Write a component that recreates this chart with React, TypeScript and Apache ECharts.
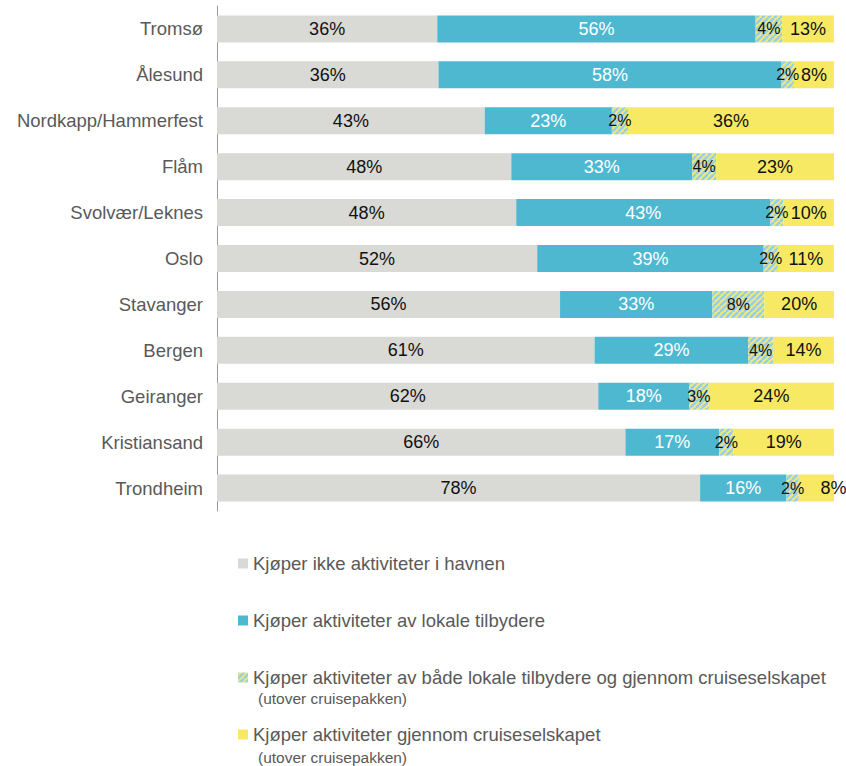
import React, { useEffect, useRef } from "react";
import * as echarts from "echarts";

const categories = [
  "Tromsø",
  "Ålesund",
  "Nordkapp/Hammerfest",
  "Flåm",
  "Svolvær/Leknes",
  "Oslo",
  "Stavanger",
  "Bergen",
  "Geiranger",
  "Kristiansand",
  "Trondheim",
];

const seriesNames = [
  "Kjøper ikke aktiviteter i havnen",
  "Kjøper aktiviteter av lokale tilbydere",
  "Kjøper aktiviteter av både lokale tilbydere og gjennom cruiseselskapet",
  "Kjøper aktiviteter gjennom cruiseselskapet",
];

// Segment lengths as drawn (share of the bar, %)
const noneShare = [35.7, 35.9, 43.4, 47.7, 48.5, 51.9, 55.6, 61.2, 61.8, 66.2, 78.3];
const localShare = [51.6, 55.6, 20.6, 29.3, 41.2, 36.7, 24.7, 24.9, 14.7, 15.2, 14.0];
const bothShare = [4.3, 2.0, 2.6, 3.9, 2.1, 2.3, 8.4, 4.0, 3.2, 2.3, 2.0];
const cruiseShare = [8.4, 6.5, 33.4, 19.1, 8.2, 9.1, 11.3, 9.9, 20.3, 16.3, 5.7];

// Printed labels (%)
const noneLabels = [36, 36, 43, 48, 48, 52, 56, 61, 62, 66, 78];
const localLabels = [56, 58, 23, 33, 43, 39, 33, 29, 18, 17, 16];
const bothLabels = [4, 2, 2, 4, 2, 2, 8, 4, 3, 2, 2];
const cruiseLabels = [13, 8, 36, 23, 10, 11, 20, 14, 24, 19, 8];

const subNote = "(utover cruisepakken)";

const FONT = "'Liberation Sans', Arial, Helvetica, sans-serif";
const GRAY = "#D9D9D5";
const BLUE = "#4FB8D1";
const YELLOW = "#F7E963";
const TEXT = "#595959";

function makeHatch() {
  const size = 6;
  const c = document.createElement("canvas");
  c.width = size;
  c.height = size;
  const ctx = c.getContext("2d")!;
  ctx.fillStyle = "#F4E874";
  ctx.fillRect(0, 0, size, size);
  ctx.strokeStyle = "#92D0E6";
  ctx.lineWidth = 2.4;
  for (const k of [-size, 0, size]) {
    ctx.beginPath();
    ctx.moveTo(k, size);
    ctx.lineTo(k + size, 0);
    ctx.stroke();
  }
  return c;
}

export default function App() {
  const ref = useRef<HTMLDivElement>(null);

  useEffect(() => {
    if (!ref.current) return;
    const chart = echarts.init(ref.current, undefined, { renderer: "svg" });
    const hatch = { image: makeHatch(), repeat: "repeat" } as any;

    const labelBase = {
      show: true,
      position: "inside",
      fontFamily: FONT,
      fontSize: 18,
      color: "#111",
    };

    const mk = (
      name: string,
      values: number[],
      labels: number[],
      color: any,
      labelExtra: any,
      nudge: Record<number, number> = {}
    ) => ({
      name,
      type: "bar",
      stack: "total",
      barWidth: 27,
      itemStyle: { color },
      label: {
        ...labelBase,
        ...labelExtra,
        formatter: (p: any) => labels[p.dataIndex] + "%",
      },
      data: values.map((v, i) =>
        nudge[i] !== undefined ? { value: v, label: { offset: [nudge[i], 0] } } : v
      ),
    });

    chart.setOption({
      animation: false,
      grid: { left: 217, right: 12, top: 6, bottom: 255, containLabel: false },
      xAxis: {
        type: "value",
        min: 0,
        max: 100,
        show: false,
      },
      yAxis: {
        type: "category",
        data: categories,
        inverse: true,
        axisTick: { show: false },
        axisLine: { show: true, lineStyle: { color: "#9A9A9A", width: 1 } },
        axisLabel: {
          color: TEXT,
          fontFamily: FONT,
          fontSize: 18.5,
          margin: 14,
        },
      },
      legend: {
        orient: "vertical",
        left: 233,
        top: 549,
        itemWidth: 10,
        itemHeight: 10,
        itemGap: 38,
        icon: "rect",
        textStyle: { color: TEXT, fontFamily: FONT, fontSize: 18.5, lineHeight: 18 },
        data: seriesNames,
      },
      graphic: [
        {
          type: "text",
          left: 258,
          top: 690,
          style: { text: subNote, fill: TEXT, font: `15.5px ${FONT}` },
        },
        {
          type: "text",
          left: 258,
          top: 749,
          style: { text: subNote, fill: TEXT, font: `15.5px ${FONT}` },
        },
      ],
      series: [
        mk(seriesNames[0], noneShare, noneLabels, GRAY, {}),
        mk(seriesNames[1], localShare, localLabels, BLUE, { color: "#ffffff" }),
        mk(seriesNames[2], bothShare, bothLabels, hatch, { fontSize: 16 }),
        mk(seriesNames[3], cruiseShare, cruiseLabels, YELLOW, {}, { 10: 17 }),
      ],
    });

    return () => chart.dispose();
  }, []);

  return (
    <div
      ref={ref}
      style={{ position: "fixed", left: 0, top: 0, width: 846, height: 766, background: "#fff" }}
    />
  );
}
